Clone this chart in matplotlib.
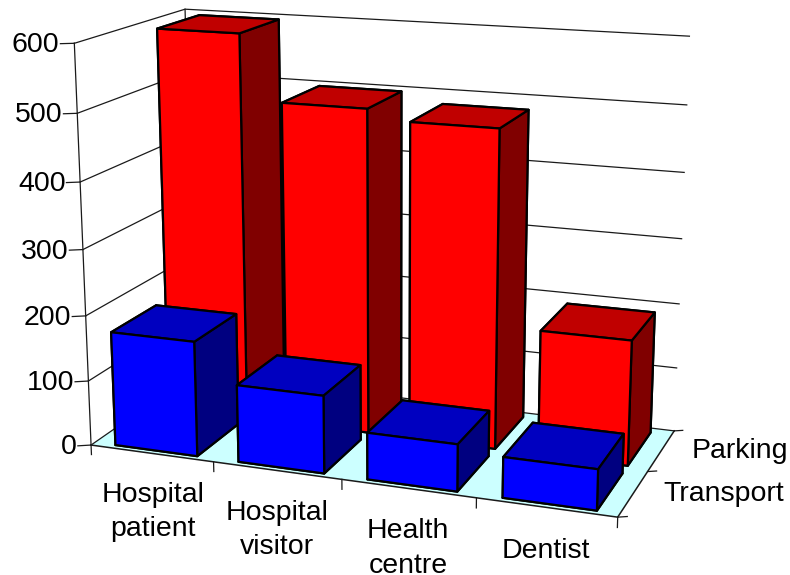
import matplotlib
matplotlib.use('Agg')
import matplotlib.pyplot as plt
from mpl_toolkits.mplot3d import proj3d
from mpl_toolkits.mplot3d.art3d import Poly3DCollection

plt.rcParams['font.family'] = ['Liberation Sans', 'DejaVu Sans']

categories = ['Hospital\npatient', 'Hospital\nvisitor', 'Health\ncentre', 'Dentist']
series_names = ['Transport', 'Parking']
transport = [175, 117, 70, 60]
parking = [595, 496, 481, 189]
z_ticks = [0, 100, 200, 300, 400, 500, 600]

W, H = 790, 575
size = 1000
left = ((W - size) / 2 - 23.38) / W
bottom = ((H - size) / 2 + 29.89) / H

fig = plt.figure(figsize=(W / 100, H / 100), dpi=100)
ax = fig.add_axes([left, bottom, size / W, size / H], projection='3d', computed_zorder=False)
ax.set_xlim3d(0, 4, view_margin=0)
ax.set_ylim3d(0, 2, view_margin=0)
ax.set_zlim3d(0, 600, view_margin=0)
ax.view_init(elev=14.9017, azim=-69.7478, roll=0.068)
ax.set_proj_type('persp', focal_length=0.3681)
ax.set_box_aspect((2.2443, 1, 1.6863), zoom=0.7064)
ax.set_axis_off()
ax.apply_aspect()

LINE = '#1a1a1a'
FONT = 20.5


def seg(x, y, z, lw=0.9, color=LINE, zorder=2):
    ax.plot(x, y, z, color=color, lw=lw, zorder=zorder, clip_on=False)


def label(x, y, z, s, **kw):
    # put a flat text at the screen position of a 3d point
    px, py, _ = proj3d.proj_transform(x, y, z, ax.get_proj())
    sx, sy = ax.transData.transform((px, py))
    fig.text(sx / W, sy / H, s, fontsize=FONT, **kw)


# floor
floor = Poly3DCollection([[(0, 0, 0), (4, 0, 0), (4, 2, 0), (0, 2, 0)]],
                         facecolor='#ccffff', edgecolor='none', zorder=1)
ax.add_collection3d(floor)

# walls: gridlines run along the left side and then the back
for z in z_ticks:
    seg([0, 0, 4], [0, 2, 2], [z, z, z])
seg([0, 0], [0, 0], [0, 600])
seg([0, 0], [2, 2], [0, 600])
seg([0, 4, 4], [0, 0, 2], [0, 0, 0], lw=1.1)

# tick marks
for z in z_ticks:
    seg([0, -0.084], [0, -0.054], [z, z])
    label(-0.09, -0.058, z - 2, str(z), ha='right', va='center')
for x in range(5):
    seg([x, x], [0, 0], [0, -15])
for y in range(3):
    seg([4, 4.058], [y, y + 0.037], [0, 0])

# category and series labels
for i, name in enumerate(categories):
    label(i + 0.5, 0, -45, name, ha='center', va='top', linespacing=1.42)
series_x = [4.19, 4.2]
for j, name in enumerate(series_names):
    label(series_x[j], j + 0.629, -4, name, ha='left', va='center')

# bars, back row first, left to right within a row
bar_w = 0.67
bar_d = 0.82
x_start = 0.17
y_start = 0.07
rows = [(parking, 1, ('#ff0000', '#c00000', '#800000')),
        (transport, 0, ('#0000ff', '#0000c0', '#000080'))]
order = 10
for values, row, (front, top, side) in rows:
    for i, v in enumerate(values):
        # face order in bar3d: bottom, top, front, back, left, right
        faces = [side, top, front, side, side, side]
        ax.bar3d(i + x_start, row + y_start, 0, bar_w, bar_d, v, color=faces, shade=False,
                 edgecolor='black', linewidth=1.6, zorder=order)
        order += 1

fig.savefig('out.png', dpi=100)
